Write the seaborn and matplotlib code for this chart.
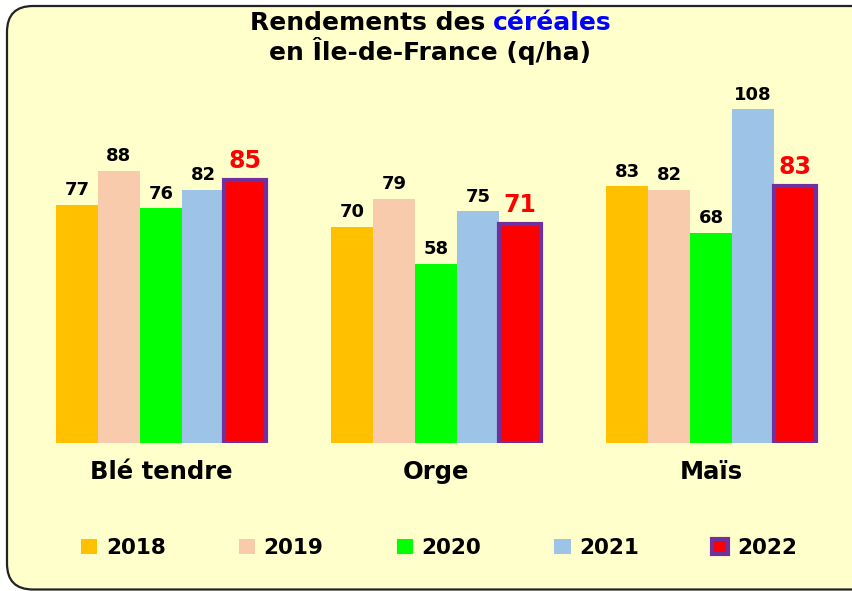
import matplotlib
matplotlib.use("Agg")
import matplotlib.pyplot as plt
import seaborn as sns
import pandas as pd
from matplotlib.patches import FancyBboxPatch, Patch
from matplotlib.transforms import IdentityTransform

# ---- data ----
categories = ["Blé tendre", "Orge", "Maïs"]
years = ["2018", "2019", "2020", "2021", "2022"]
v2018 = [77, 70, 83]
v2019 = [88, 79, 82]
v2020 = [76, 58, 68]
v2021 = [82, 75, 108]
v2022 = [85, 71, 83]
colors = ["#FFC000", "#F8CBAD", "#00FF00", "#9DC3E6", "#FF0000"]
edge_2022 = "#7030A0"

series = [v2018, v2019, v2020, v2021, v2022]
rows = []
for y, vals in zip(years, series):
    for c, v in zip(categories, vals):
        rows.append({"cat": c, "year": y, "val": v})
df = pd.DataFrame(rows)

sns.set_theme(style="white")
plt.rcParams['font.family'] = ['DejaVu Sans']
plt.rcParams['text.color'] = 'black'

W, H = 852, 591
fig = plt.figure(figsize=(W / 100, H / 100), dpi=100)
fig.patch.set_facecolor("white")

# rounded pale-yellow frame
box = FancyBboxPatch((7, 1.5), 870, 583.5,
                     boxstyle="round,pad=0,rounding_size=26",
                     transform=IdentityTransform(),
                     facecolor="#FFFFCC", edgecolor="#222222",
                     linewidth=1.6, zorder=-1)
fig.add_artist(box)

ax = fig.add_axes([23.5 / W, 148 / H, 825 / W, 355.5 / H])
ax.set_facecolor("none")

sns.barplot(data=df, x="cat", y="val", hue="year", order=categories,
            hue_order=years, palette=dict(zip(years, colors)),
            width=0.764, linewidth=0, saturation=1, errorbar=None,
            legend=False, ax=ax)

ax.set_xlim(-0.5, 2.5)
ax.set_ylim(0, 115)

for i, cont in enumerate(ax.containers):
    vals = series[i]
    if i == 4:
        for p in cont.patches:
            p.set_edgecolor(edge_2022)
            p.set_linewidth(3)
        ax.bar_label(cont, labels=[str(v) for v in vals], padding=5,
                     fontsize=17, fontweight="bold", color="red")
    else:
        ax.bar_label(cont, labels=[str(v) for v in vals], padding=4,
                     fontsize=13, fontweight="bold", color="black")

for s in ax.spines.values():
    s.set_visible(False)
ax.set_yticks([])
ax.set_xlabel("")
ax.set_ylabel("")
ax.tick_params(axis="x", length=0, pad=12.5)
for lab in ax.get_xticklabels():
    lab.set_fontsize(17.5)
    lab.set_fontweight("bold")
    lab.set_color("black")

# ---- title (two colours on first line) ----
renderer = fig.canvas.get_renderer()
tsize = 18
ta = fig.text(0, 1 - 30 / H, "Rendements des", fontsize=tsize,
              fontweight="bold", color="black", ha="left", va="baseline")
tb = fig.text(0, 1 - 30 / H, "céréales", fontsize=tsize,
              fontweight="bold", color="#0000FF", ha="left", va="baseline")
wa = ta.get_window_extent(renderer).width
wb = tb.get_window_extent(renderer).width
gap = 0.32 * tsize * 100 / 72
cx = 431
x0 = cx - (wa + gap + wb) / 2
ta.set_x(x0 / W)
tb.set_x((x0 + wa + gap) / W)
fig.text(430 / W, 1 - 60 / H, "en Île-de-France (q/ha)", fontsize=tsize,
         fontweight="bold", color="black", ha="center", va="baseline")

# ---- legend ----
handles = []
for y, c in zip(years, colors):
    if y == "2022":
        handles.append(Patch(facecolor=c, edgecolor=edge_2022, linewidth=3))
    else:
        handles.append(Patch(facecolor=c, edgecolor="none", linewidth=0))
fig.legend(handles, years, loc="center", bbox_to_anchor=(439 / W, 1 - 548 / H),
           ncol=5, frameon=False, prop=dict(weight="bold", size=15.5),
           handlelength=0.75, handleheight=0.75, handletextpad=0.4,
           columnspacing=3.4, labelcolor="black")

fig.savefig("out.png", dpi=100, facecolor="white")
